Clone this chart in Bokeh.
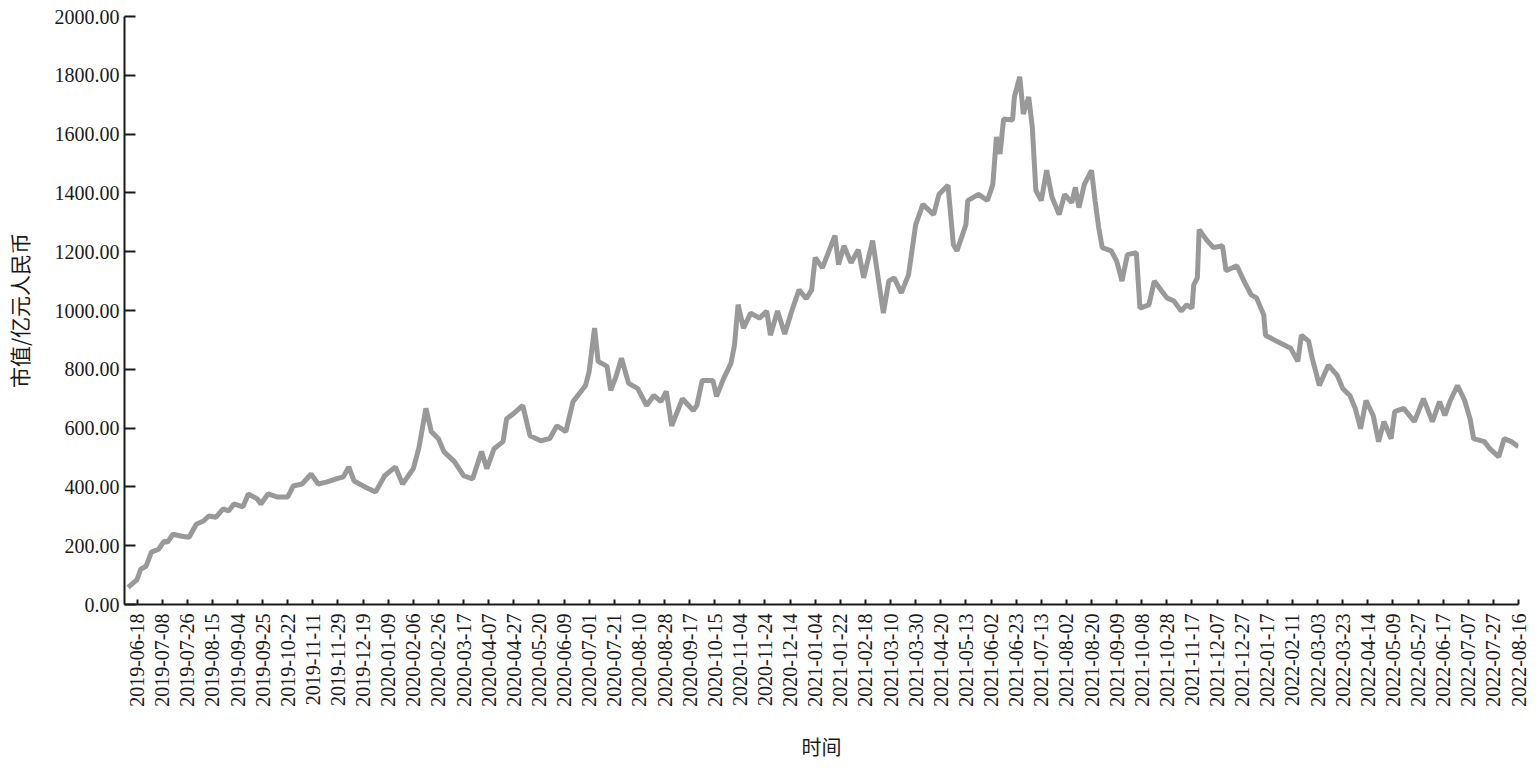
import math
from bokeh.plotting import figure
from bokeh.models import Range1d, FixedTicker, NumeralTickFormatter
from bokeh.embed import file_html
from bokeh.resources import INLINE

# trading-day index (0 = 2019-06-18, one tick label every 14 trading days)
day_index = [-5, 0, 2, 5, 8, 12, 15, 17, 20, 25, 29, 33, 37, 40, 44, 48, 51, 54, 59, 62,
             67, 69, 73, 78, 84, 87, 92, 97, 101, 106, 111, 115, 118, 121, 127, 133, 138, 144, 148, 154,
             157, 159, 161, 164, 168, 171, 177, 182, 187, 192, 195, 199, 204, 206, 210, 215, 219, 225, 230, 234,
             239, 243, 250, 252, 255, 257, 262, 264, 267, 270, 274, 279, 284, 288, 292, 295, 298, 304, 310, 312,
             315, 321, 323, 327, 331, 333, 335, 338, 342, 347, 351, 353, 357, 361, 365, 369, 373, 376, 378, 382,
             389, 391, 394, 398, 402, 405, 410, 416, 419, 422, 426, 430, 434, 438, 444, 447, 452, 455, 457, 462,
             463, 469, 474, 477, 479, 481, 483, 488, 489, 492, 494, 497, 499, 501, 504, 507, 510, 514, 517, 521,
             523, 525, 528, 532, 534, 536, 538, 543, 546, 549, 552, 557, 559, 564, 567, 571, 574, 578, 582, 585,
             588, 589, 591, 592, 596, 600, 605, 607, 613, 617, 621, 624, 628, 629, 635, 643, 647, 649, 653, 655,
             659, 664, 669, 672, 676, 679, 682, 685, 689, 692, 695, 699, 701, 706, 712, 717, 722, 726, 729, 732,
             736, 740, 743, 745, 751, 754, 759, 762, 766, 770]

# market value, 100 million RMB
market_cap = [58, 85, 120, 130, 178, 188, 215, 212, 239, 232, 229, 273, 284, 301, 297, 325, 318, 342, 332, 376,
              359, 342, 376, 366, 366, 403, 410, 444, 410, 417, 427, 434, 468, 420, 400, 383, 438, 468, 410, 462,
              530, 598, 667, 588, 564, 520, 485, 438, 427, 520, 462, 530, 554, 632, 650, 677, 574, 557, 564, 608,
              588, 690, 745, 793, 940, 827, 810, 728, 776, 838, 752, 735, 677, 711, 690, 725, 608, 700, 660, 677,
              762, 762, 708, 769, 820, 882, 1020, 940, 991, 974, 998, 916, 998, 920, 1000, 1070, 1040, 1070, 1180, 1145,
              1255, 1156, 1220, 1162, 1207, 1111, 1238, 991, 1100, 1111, 1060, 1121, 1292, 1361, 1326, 1395, 1426, 1224, 1203, 1292,
              1374, 1395, 1374, 1429, 1590, 1532, 1651, 1648, 1726, 1795, 1668, 1726, 1624, 1408, 1374, 1477, 1385, 1326, 1395, 1367,
              1419, 1350, 1429, 1477, 1374, 1282, 1214, 1203, 1169, 1100, 1190, 1197, 1008, 1019, 1100, 1067, 1043, 1032, 998, 1019,
              1008, 1087, 1111, 1275, 1241, 1214, 1220, 1135, 1152, 1100, 1053, 1043, 985, 916, 896, 872, 827, 916, 896, 838,
              745, 814, 779, 735, 711, 667, 598, 694, 643, 554, 622, 564, 656, 667, 622, 700, 622, 690, 643, 694,
              745, 694, 632, 564, 554, 530, 502, 564, 554, 537]

tick_labels = ["2019-06-18", "2019-07-08", "2019-07-26", "2019-08-15", "2019-09-04", "2019-09-25", "2019-10-22",
               "2019-11-11", "2019-11-29", "2019-12-19",
               "2020-01-09", "2020-02-06", "2020-02-26", "2020-03-17", "2020-04-07", "2020-04-27", "2020-05-20",
               "2020-06-09", "2020-07-01", "2020-07-21", "2020-08-10", "2020-08-28", "2020-09-17", "2020-10-15",
               "2020-11-04", "2020-11-24", "2020-12-14",
               "2021-01-04", "2021-01-22", "2021-02-18", "2021-03-10", "2021-03-30", "2021-04-20", "2021-05-13",
               "2021-06-02", "2021-06-23", "2021-07-13", "2021-08-02", "2021-08-20", "2021-09-09", "2021-10-08",
               "2021-10-28", "2021-11-17", "2021-12-07", "2021-12-27",
               "2022-01-17", "2022-02-11", "2022-03-03", "2022-03-23", "2022-04-14", "2022-05-09", "2022-05-27",
               "2022-06-17", "2022-07-07", "2022-07-27", "2022-08-16"]
tick_step = 14
y_ticks = [0, 200, 400, 600, 800, 1000, 1200, 1400, 1600, 1800, 2000]

tick_pos = [i * tick_step for i in range(len(tick_labels))]

W, H = 1530, 768
LEFT, TOP, FW, FH = 115, 16, 1403, 588
p = figure(width=W, height=H, output_backend="svg", toolbar_location=None,
           x_range=Range1d(-7, tick_pos[-1]), y_range=Range1d(0, 2000),
           min_border_left=LEFT, min_border_top=TOP, min_border_right=W - LEFT - FW,
           min_border_bottom=H - TOP - FH)
p.outline_line_color = None
p.xgrid.grid_line_color = None
p.ygrid.grid_line_color = None
p.background_fill_color = "white"
p.border_fill_color = "white"

p.line(day_index, market_cap, line_width=5, line_color="#999999")

axis_color = "#1a1a1a"
serif = "Liberation Serif"
cjk = "Noto Sans CJK SC"

xa = p.xaxis[0]
xa.ticker = FixedTicker(ticks=tick_pos)
xa.major_label_overrides = {pos: lab for pos, lab in zip(tick_pos, tick_labels)}
xa.major_label_orientation = math.pi / 2
xa.minor_tick_line_color = None
xa.major_tick_in = 5
xa.major_tick_out = 0
xa.axis_line_width = 2
xa.major_tick_line_width = 2
xa.axis_line_color = axis_color
xa.major_tick_line_color = axis_color
xa.major_label_text_font = serif
xa.major_label_text_font_size = "20px"
xa.major_label_text_color = axis_color
xa.major_label_standoff = 9
xa.axis_label = "时间"
xa.axis_label_text_font = cjk
xa.axis_label_text_font_style = "normal"
xa.axis_label_text_font_size = "20px"
xa.axis_label_text_color = axis_color
xa.axis_label_standoff = 22

ya = p.yaxis[0]
ya.ticker = FixedTicker(ticks=y_ticks)
ya.formatter = NumeralTickFormatter(format="0.00")
ya.minor_tick_line_color = None
ya.major_tick_in = 11
ya.major_tick_out = 0
ya.axis_line_width = 2
ya.major_tick_line_width = 2
ya.axis_line_color = axis_color
ya.major_tick_line_color = axis_color
ya.major_label_text_font = serif
ya.major_label_text_font_size = "20px"
ya.major_label_text_color = axis_color
ya.major_label_standoff = 5
ya.axis_label = "市值/亿元人民币"
ya.axis_label_text_font = cjk
ya.axis_label_text_font_style = "normal"
ya.axis_label_text_font_size = "21px"
ya.axis_label_text_color = axis_color
ya.axis_label_standoff = 18

open("out.html", "w").write(file_html(p, INLINE))
